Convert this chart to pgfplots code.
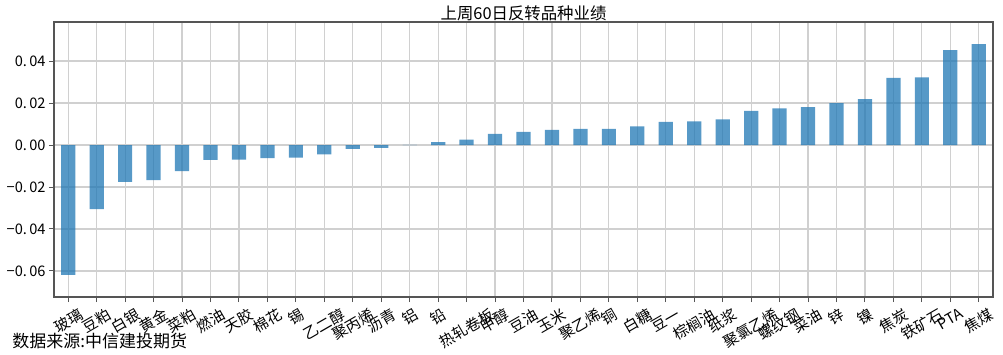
\documentclass[border=0pt]{standalone}
\usepackage{pgfplots}
\pgfplotsset{compat=1.18}
\usepackage{fontspec}
\usepackage{graphicx}
\setmainfont{Noto Sans CJK SC}
\definecolor{tabblue}{HTML}{1F77B4}
\definecolor{gridgray}{HTML}{D0D0D0}
\definecolor{axgray}{HTML}{555555}
\begin{document}
\begin{tikzpicture}
\begin{axis}[
  scale only axis,
  width=469.5pt, height=137.5pt,
  xmin=-0.5, xmax=32.5,
  ymin=-0.0724, ymax=0.0586,
  scaled y ticks=false,
  ybar, bar width=0.5, bar shift=0pt,
  xtick=data,
  xticklabels={\rotatebox{30}{玻璃},\rotatebox{30}{豆粕},\rotatebox{30}{白银},\rotatebox{30}{黄金},\rotatebox{30}{菜粕},\rotatebox{30}{燃油},\rotatebox{30}{天胶},\rotatebox{30}{棉花},\rotatebox{30}{锡},\rotatebox{30}{乙二醇},\rotatebox{30}{聚丙烯},\rotatebox{30}{沥青},\rotatebox{30}{铝},\rotatebox{30}{铅},\rotatebox{30}{热轧卷板},\rotatebox{30}{甲醇},\rotatebox{30}{豆油},\rotatebox{30}{玉米},\rotatebox{30}{聚乙烯},\rotatebox{30}{铜},\rotatebox{30}{白糖},\rotatebox{30}{豆一},\rotatebox{30}{棕榈油},\rotatebox{30}{纸浆},\rotatebox{30}{聚氯乙烯},\rotatebox{30}{螺纹钢},\rotatebox{30}{菜油},\rotatebox{30}{锌},\rotatebox{30}{镍},\rotatebox{30}{焦炭},\rotatebox{30}{铁矿石},\rotatebox{30}{PTA},\rotatebox{30}{焦煤}},
  xticklabel style={font=\fontsize{7.5pt}{8pt}\selectfont, anchor=north, inner sep=1pt, yshift=-1.5pt},
  ytick={-0.06,-0.04,-0.02,0,0.02,0.04},
  yticklabels={−0.\,06,−0.\,04,−0.\,02,0.\,00,0.\,02,0.\,04},
  yticklabel style={font=\fontsize{7.3pt}{8pt}\selectfont, inner sep=1.5pt},
  grid=major,
  major grid style={gridgray, line width=0.6pt},
  axis line style={axgray, line width=0.6pt},
  tick style={axgray, line width=0.5pt},
  major tick length=2.5pt,
  tick pos=left,
  tick align=outside,
  title={上周60日反转品种业绩},
  title style={font=\fontsize{8.2pt}{9pt}\selectfont, yshift=-9pt},
  clip=false,
]
\addplot[fill=tabblue, fill opacity=0.75, draw=none] coordinates {
(0,-0.0619) (1,-0.0305) (2,-0.0176) (3,-0.0167) (4,-0.0124) (5,-0.0071) (6,-0.0070) (7,-0.0062) (8,-0.0060) (9,-0.0045) (10,-0.0018) (11,-0.0014) (12,0.0001) (13,0.0014) (14,0.0026) (15,0.0053) (16,0.0063) (17,0.0072) (18,0.0077) (19,0.0077) (20,0.0089) (21,0.0110) (22,0.0113) (23,0.0122) (24,0.0163) (25,0.0175) (26,0.0180) (27,0.0200) (28,0.0218) (29,0.0320) (30,0.0322) (31,0.0452) (32,0.0480)
};
\node[anchor=west, font=\fontsize{8.5pt}{9pt}\selectfont, inner sep=0pt] at ([xshift=-21pt,yshift=-22pt]rel axis cs:0,0) {数据来源:中信建投期货};
\end{axis}
\pgfresetboundingbox
\useasboundingbox ([xshift=-27pt,yshift=-28.5pt]current axis.south west) rectangle ([xshift=5pt,yshift=11pt]current axis.north east);
\end{tikzpicture}
\end{document}
